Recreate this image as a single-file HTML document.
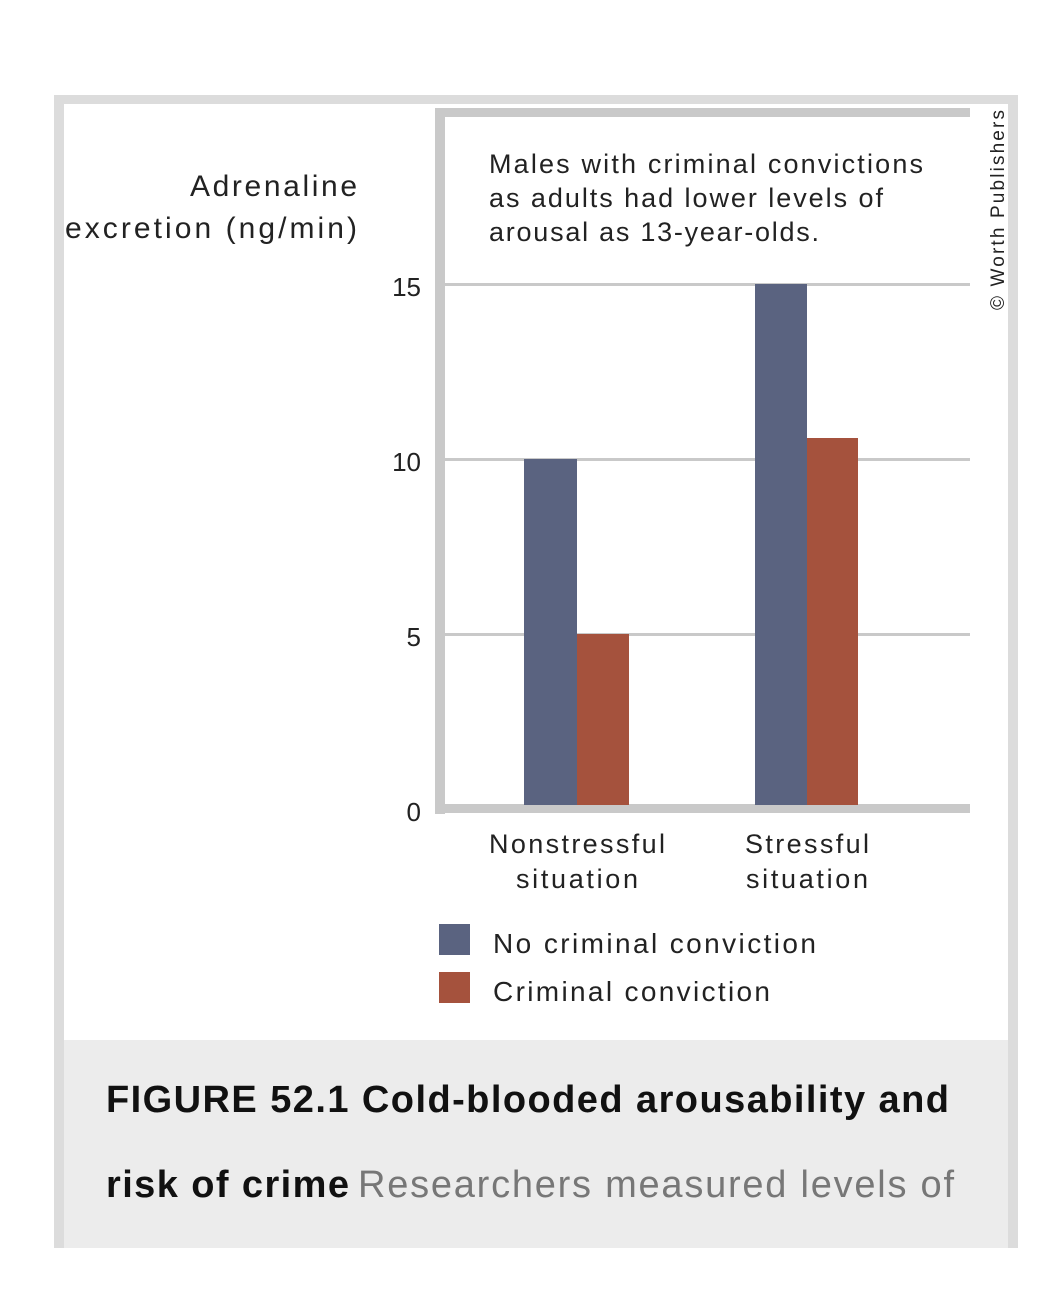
<!DOCTYPE html>
<html><head><style>
body{margin:0;width:1062px;height:1291px;background:#fff;position:relative;overflow:hidden;font-family:"Liberation Sans",sans-serif}
.a{position:absolute}
</style></head><body>
<div class="a" style="left:54px;top:95px;width:964px;height:1153px;background:#dcdcdc"></div>
<div class="a" style="left:64px;top:104px;width:944px;height:936px;background:#fff"></div>
<div class="a" style="left:64px;top:1040px;width:944px;height:208px;background:#ececec"></div>
<svg class="a" style="left:0;top:0" width="1062" height="1291">
<g fill="#c9c9c9">
<rect x="435" y="108" width="535" height="9"/>
<rect x="435" y="108" width="10" height="706"/>
<rect x="435" y="804" width="535" height="9"/>
<rect x="445" y="283" width="525" height="3"/>
<rect x="445" y="458" width="525" height="3"/>
<rect x="445" y="633" width="525" height="3"/>
</g>
<rect x="524" y="459" width="53" height="346" fill="#5a6380"/>
<rect x="577" y="634" width="52" height="171" fill="#a5523d"/>
<rect x="755" y="284" width="52" height="521" fill="#5a6380"/>
<rect x="807" y="438" width="51" height="367" fill="#a5523d"/>
<rect x="439" y="924" width="31" height="31" fill="#5a6380"/>
<rect x="439" y="972" width="31" height="31" fill="#a5523d"/>
<g font-family="Liberation Sans,sans-serif" fill="#222">
<g font-size="26" text-anchor="end">
<text x="421" y="296">15</text><text x="421" y="471">10</text><text x="421" y="646">5</text><text x="421" y="821">0</text>
</g>
<g font-size="30" text-anchor="end">
<text x="357" y="196" textLength="167">Adrenaline</text><text x="357" y="238" textLength="292">excretion (ng/min)</text>
</g>
<g font-size="27">
<text x="489" y="173" textLength="434">Males with criminal convictions</text>
<text x="489" y="207" textLength="394">as adults had lower levels of</text>
<text x="489" y="241" textLength="330">arousal as 13-year-olds.</text>
</g>
<g font-size="27" text-anchor="middle">
<text x="577" y="853" textLength="176">Nonstressful</text><text x="577" y="888" textLength="122">situation</text>
<text x="807" y="853" textLength="124">Stressful</text><text x="807" y="888" textLength="122">situation</text>
</g>
<g font-size="28">
<text x="493" y="953" textLength="323">No criminal conviction</text>
<text x="493" y="1001" textLength="277">Criminal conviction</text>
</g>
<text transform="translate(1004,310) rotate(-90)" font-size="19" textLength="200">© Worth Publishers</text>
<text x="106" y="1112" font-size="38" font-weight="bold" fill="#111" textLength="843">FIGURE 52.1 Cold-blooded arousability and</text>
<text x="106" y="1197" font-size="38" font-weight="bold" fill="#111" textLength="243">risk of crime</text>
<text x="358" y="1197" font-size="38" fill="#777" textLength="596">Researchers measured levels of</text>
</g>
</svg>
</body></html>
